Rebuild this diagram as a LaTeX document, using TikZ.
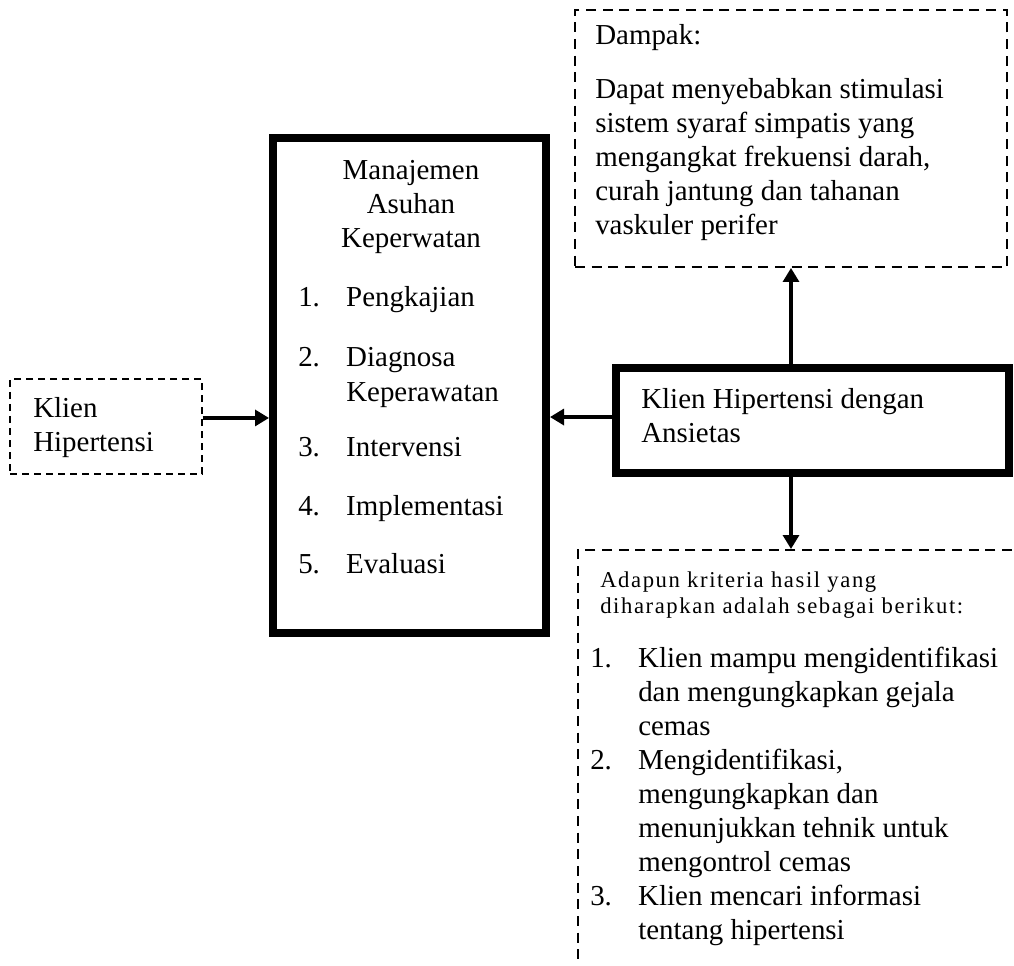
\documentclass[tikz,border=0pt]{standalone}
\usepackage{fontspec}
\setmainfont{Liberation Serif}
\usetikzlibrary{arrows.meta}

\tikzset{
	tebal/.style={draw, line width=6pt, inner sep=0pt},
	putus/.style={draw, line width=1.5pt, dash pattern=on 7.5pt off 5pt, inner sep=0pt},
	panah/.style={line width=2.4pt, -{Triangle[length=10.5pt,width=12pt]}},
	teks/.style={anchor=base west, inner sep=0pt, font=\fontsize{21.7}{25.5}\selectfont},
	kecil/.style={anchor=base west, inner sep=0pt, font=\fontsize{17}{19.5}\selectfont\addfontfeature{LetterSpace=7}}
}

\begin{document}
\begin{tikzpicture}[x=0.75pt, y=-0.75pt]
		\useasboundingbox (0,0) rectangle (1014,966);
		\clip (0,0) rectangle (1014,966);
		% kotak
		\node (klien)[putus, line width=1pt, dash pattern=on 5pt off 4pt, minimum width=144pt, minimum height=71.25pt] at (106,426.5) {};
		\node (manajemen)[tebal, minimum width=204.75pt, minimum height=371.25pt] at (409.5,385.5) {};
		\node (ansietas)[tebal, minimum width=294.75pt, minimum height=78.75pt] at (812.5,420.5) {};
		\node (dampak)[putus, minimum width=324pt, minimum height=192.75pt] at (791,138.5) {};
		\node (kriteria)[putus, minimum width=346.5pt, minimum height=345pt] at (809,780) {};
		% teks
		\node (klientxt)[teks] at (33,417) {\begin{tabular}[t]{@{}l@{}}Klien\\Hipertensi\end{tabular}};
		\node (judul)[teks, anchor=base] at (411,180) {\begin{tabular}[t]{@{}c@{}}Manajemen\\Asuhan\\Keperwatan\end{tabular}};
		\node (langkah)[teks] at (298,307) {\begin{tabular}[t]{@{}p{36pt}@{}l@{}}
			1. & Pengkajian\\[19.5pt]
			2. & Diagnosa\\
			   & Keperawatan\\[16.5pt]
			3. & Intervensi\\[18.75pt]
			4. & Implementasi\\[18pt]
			5. & Evaluasi
		\end{tabular}};
		\node (ansietastxt)[teks] at (641,408) {\begin{tabular}[t]{@{}l@{}}Klien Hipertensi dengan\\Ansietas\end{tabular}};
		\node (dampaktxt)[teks] at (595,45) {\begin{tabular}[t]{@{}l@{}}
			Dampak:\\[15pt]
			Dapat menyebabkan stimulasi\\
			sistem syaraf simpatis yang\\
			mengangkat frekuensi darah,\\
			curah jantung dan tahanan\\
			vaskuler perifer
		\end{tabular}};
		\node (kriteriatxt)[kecil] at (600,587) {\begin{tabular}[t]{@{}l@{}}Adapun kriteria hasil yang\\diharapkan adalah sebagai berikut:\end{tabular}};
		\node (hasil)[teks] at (590,667) {\begin{tabular}[t]{@{}p{36pt}@{}l@{}}
			1. & Klien mampu mengidentifikasi\\
			   & dan mengungkapkan gejala\\
			   & cemas\\
			2. & Mengidentifikasi,\\
			   & mengungkapkan dan\\
			   & menunjukkan tehnik untuk\\
			   & mengontrol cemas\\
			3. & Klien mencari informasi\\
			   & tentang hipertensi
		\end{tabular}};
		% panah
		\coordinate (kiri) at ([yshift=6.4pt]klien.east);
		\coordinate (kanan) at ([yshift=2.6pt]ansietas.west);
		\draw[panah] (kiri) -- (kiri -| manajemen.west);
		\draw[panah] (kanan) -- (kanan -| manajemen.east);
		\draw[panah] (ansietas.north -| dampak.south) -- (dampak.south);
		\draw[panah] (ansietas.south -| dampak.south) -- (kriteria.north -| dampak.south);
	\end{tikzpicture}
\end{document}
